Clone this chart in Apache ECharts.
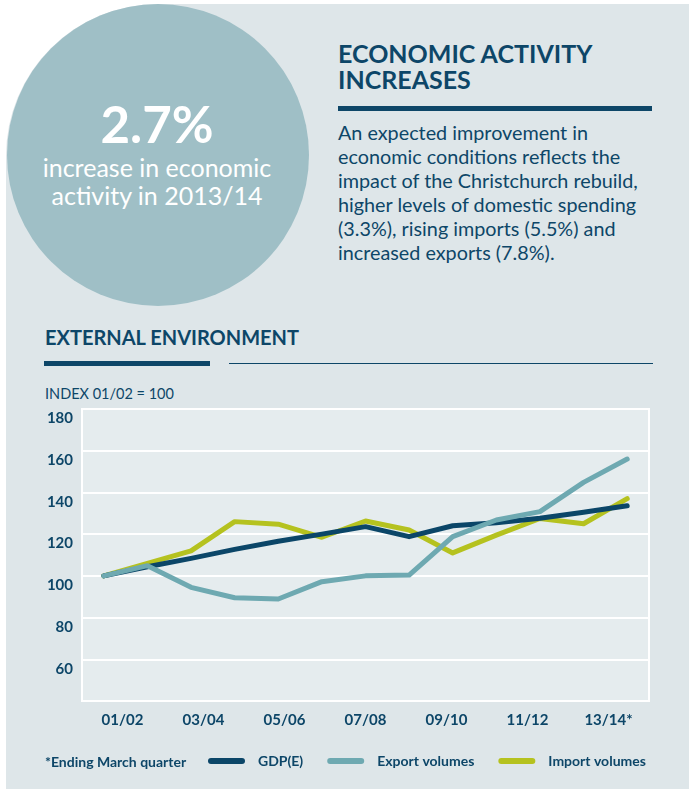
<!DOCTYPE html>
<html>
<head>
<meta charset="utf-8">
<script src="https://cdn.jsdelivr.net/npm/echarts@6/dist/echarts.min.js"></script>
<style>
html,body{margin:0;padding:0;width:689px;height:789px;overflow:hidden;background:#fff;font-family:Lato,sans-serif;}
#panel{position:absolute;left:6px;top:4px;width:683px;height:785px;background:#dee6e9;border-top-left-radius:152px;}
#circle{position:absolute;left:6.5px;top:3.5px;width:302px;height:302px;border-radius:50%;background:#9fbfc6;}
.t{position:absolute;white-space:nowrap;color:#0d4668;}
#big{left:6px;width:302px;text-align:center;color:#fff;font-weight:bold;font-size:51px;line-height:61.2px;top:93px;}
#sub{left:6px;width:302px;text-align:center;color:#fff;font-size:25px;line-height:28.3px;top:152.8px;}
#title{left:338px;top:41px;font-weight:bold;font-size:25px;line-height:25.5px;}
#rule{position:absolute;left:338px;top:106px;width:314px;height:4.5px;background:#0d4668;}
#body{left:338px;top:119.6px;font-size:19.8px;line-height:24px;}
#ext{left:45px;top:324.6px;font-weight:bold;font-size:20px;line-height:24px;}
#bar1{position:absolute;left:44px;top:361px;width:166px;height:5px;background:#0d4668;}
#bar2{position:absolute;left:229px;top:362.5px;width:424px;height:1.5px;background:#0d4668;}
#idx{left:45px;top:384.9px;font-size:14.5px;line-height:17px;}
#chart{position:absolute;left:0;top:0;width:689px;height:789px;}
</style>
</head>
<body>
<div id="panel"></div>
<div id="circle"></div>
<div class="t" id="big">2.7%</div>
<div class="t" id="sub">increase in economic<br>activity in 2013/14</div>
<div class="t" id="title">ECONOMIC ACTIVITY<br>INCREASES</div>
<div id="rule"></div>
<div class="t" id="body">An expected improvement in<br>economic conditions reflects the<br>impact of the Christchurch rebuild,<br>higher levels of domestic spending<br>(3.3%), rising imports (5.5%) and<br>increased exports (7.8%).</div>
<div class="t" id="ext">EXTERNAL ENVIRONMENT</div>
<div id="bar1"></div>
<div id="bar2"></div>
<div class="t" id="idx">INDEX 01/02 = 100</div>
<div id="chart"></div>
<script>
const years = ['01/02','02/03','03/04','04/05','05/06','06/07','07/08','08/09','09/10','10/11','11/12','12/13','13/14'];
const tickLabels = ['01/02','03/04','05/06','07/08','09/10','11/12','13/14*'];
const gdp = [100, 104.4, 108.4, 112.7, 116.6, 120, 123.6, 118.8, 124, 125.5, 127.6, 130.5, 133.6];
const exportVolumes = [100, 104.9, 94.5, 89.5, 88.9, 97.2, 100, 100.4, 118.8, 126.8, 130.8, 144.8, 156];
const importVolumes = [100, 106, 112, 126, 124.8, 118.5, 126.3, 122, 111, 119.5, 127.5, 125, 137];
const yTicks = {min: 40, max: 180, interval: 20};

const navy = '#0d4668';
const chart = echarts.init(document.getElementById('chart'), null, {renderer: 'canvas'});
const lineStyle = (c) => ({width: 5, color: c, cap: 'round', join: 'round'});
chart.setOption({
  backgroundColor: 'transparent',
  animation: false,
  grid: {left: 82, right: 40, top: 409, bottom: 88, show: true, backgroundColor: '#e5ecee', borderColor: '#ffffff', borderWidth: 2, containLabel: false},
  xAxis: [
    {type: 'category', data: years, boundaryGap: true, position: 'bottom',
     axisLine: {show: false}, axisTick: {show: false}, axisLabel: {show: false}, splitLine: {show: false}},
    {type: 'category', data: tickLabels, boundaryGap: true, position: 'bottom',
     axisLine: {show: false}, axisTick: {show: false}, splitLine: {show: false},
     axisLabel: {color: navy, fontFamily: 'Lato', fontWeight: 'bold', fontSize: 15, margin: 12}}
  ],
  yAxis: {type: 'value', min: yTicks.min, max: yTicks.max, interval: yTicks.interval,
    axisLine: {show: false}, axisTick: {show: false},
    splitLine: {show: true, lineStyle: {color: '#ffffff', width: 2}},
    axisLabel: {showMinLabel: false, color: navy, fontFamily: 'Lato', fontWeight: 'bold', fontSize: 15,
      verticalAlign: 'top', padding: [2, 0, 0, 0], margin: 9}},
  legend: {left: 208, top: 754, padding: 0, itemWidth: 37, itemHeight: 6, itemGap: 24,
    data: ['GDP(E)', 'Export volumes', 'Import volumes'],
    icon: 'path://M3 0H34A3 3 0 0 1 34 6H3A3 3 0 0 1 3 0Z',
    textStyle: {color: navy, fontFamily: 'Lato', fontWeight: 'bold', fontSize: 14, padding: [0, 0, 0, 8]}},
  graphic: [{type: 'text', x: 45, y: 762,
    style: {text: '*Ending March quarter', fill: navy, font: 'bold 14px Lato', verticalAlign: 'middle', textVerticalAlign: 'middle'}}],
  series: [
    {name: 'Import volumes', type: 'line', xAxisIndex: 0, data: importVolumes, symbol: 'none', color: '#b5c21f', lineStyle: lineStyle('#b5c21f')},
    {name: 'GDP(E)', type: 'line', xAxisIndex: 0, data: gdp, symbol: 'none', color: '#0b4668', lineStyle: lineStyle('#0b4668')},
    {name: 'Export volumes', type: 'line', xAxisIndex: 0, data: exportVolumes, symbol: 'none', color: '#6ea9b1', lineStyle: lineStyle('#6ea9b1')}
  ]
});
</script>
</body>
</html>
